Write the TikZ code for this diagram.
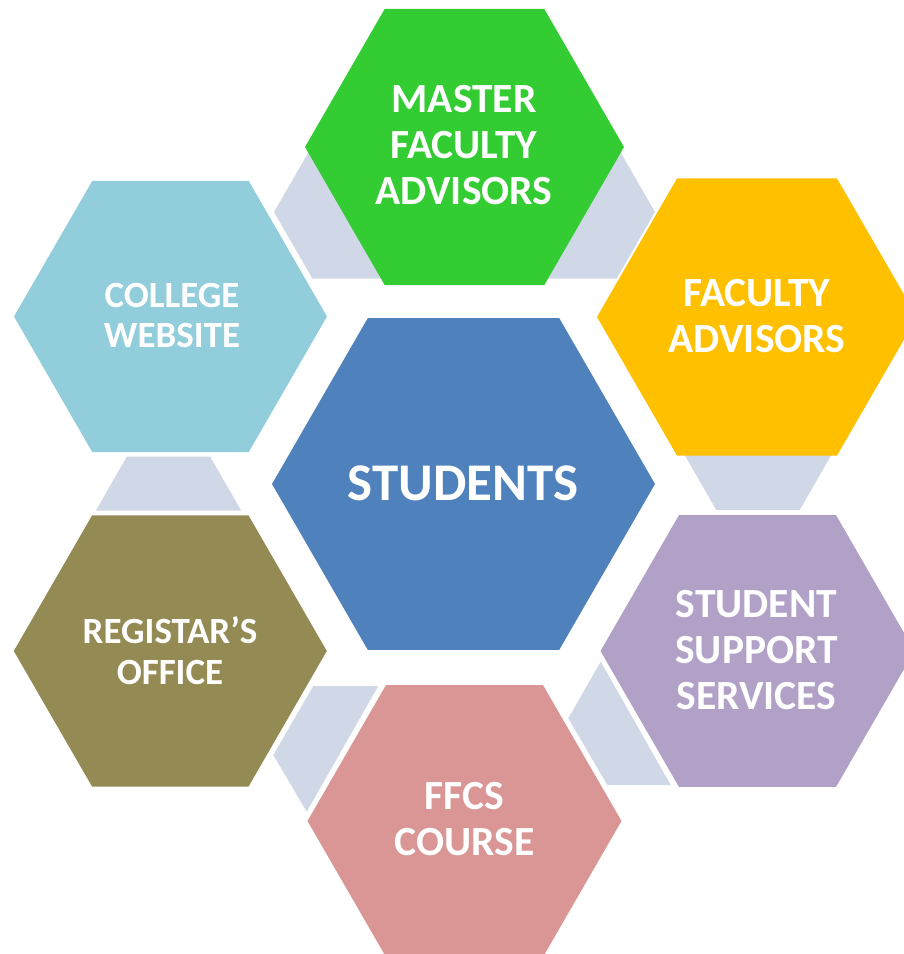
\documentclass[tikz,border=0pt]{standalone}
\usepackage{fontspec}
\setmainfont{Carlito}
\usetikzlibrary{calc}
\definecolor{cgreen}{HTML}{33CC33}
\definecolor{corange}{HTML}{FFC000}
\definecolor{cweb}{HTML}{92CDDC}
\definecolor{cblue}{HTML}{4F81BD}
\definecolor{colive}{HTML}{948A54}
\definecolor{cpurple}{HTML}{B2A1C7}
\definecolor{cpink}{HTML}{D99694}
\definecolor{cgray}{HTML}{D0D8E8}
\newcommand\hexfill[3]{\fill[#1] (#2) +(0:#3) -- +(60:#3) -- +(120:#3) -- +(180:#3) -- +(240:#3) -- +(300:#3) -- cycle;}
\tikzset{
  lbl/.style={text=white, align=center, inner sep=0pt, outer sep=0pt},
  big/.style={lbl, font=\fontsize{41.5}{46}\selectfont\bfseries},
  mid/.style={lbl, font=\fontsize{37}{40.5}\selectfont\bfseries},
  huge/.style={lbl, font=\fontsize{53}{60}\selectfont\bfseries},
  connector/.style={fill=cgray}
}
\begin{document}
\begin{tikzpicture}[x=1pt,y=-1pt]
\useasboundingbox (0,0) rectangle (904,954);
\clip (0,0) rectangle (904,954);
% centres
\coordinate (cS) at (463.5,484);
\coordinate (cM) at (464.5,147);
\coordinate (cF) at (757,317);
\coordinate (cW) at (170.5,316.5);
\coordinate (cR) at (170.3,651);
\coordinate (cP) at (757.5,651);
\coordinate (cC) at (464.5,821);
\coordinate (g1) at (351,212);
\coordinate (g2) at (578,212);
% gray connectors
\hexfill{connector}{g1}{77}
\hexfill{connector}{g2}{77}
\fill[connector] (681.8,450) -- (834.2,450) -- (799.7,510) -- (716.3,510) -- cycle;
\fill[connector] (126.8,456.7) -- (210.2,456.7) -- (241.2,510.7) -- (95.8,510.7) -- cycle;
\fill[connector] (313.3,686) -- (378.3,686) -- (306.7,811.7) -- (273.3,755) -- cycle;
\fill[connector] (600.7,661.7) -- (670.7,785) -- (607.3,785) -- (568.3,718.3) -- cycle;
% hexagons
\hexfill{cblue}{cS}{191.5}
\hexfill{cgreen}{cM}{159.5}
\hexfill{corange}{cF}{160}
\hexfill{cweb}{cW}{156.5}
\hexfill{colive}{cR}{156.5}
\hexfill{cpurple}{cP}{157}
\hexfill{cpink}{cC}{157}
% labels
\node[huge] (tS) at (463,483) {STUDENTS};
\node[big] (tM) at (464,145) {MASTER\\FACULTY\\ADVISORS};
\node[big] (tF) at (757,316.3) {FACULTY\\ADVISORS};
\node[mid] (tW) at (172,315.3) {COLLEGE\\WEBSITE};
\node[mid] (tR) at (170,650.8) {REGISTAR’S\\OFFICE};
\node[big] (tP) at (756.5,650) {STUDENT\\SUPPORT\\SERVICES};
\node[big] (tC) at (464.5,819) {FFCS\\COURSE};
\end{tikzpicture}
\end{document}
